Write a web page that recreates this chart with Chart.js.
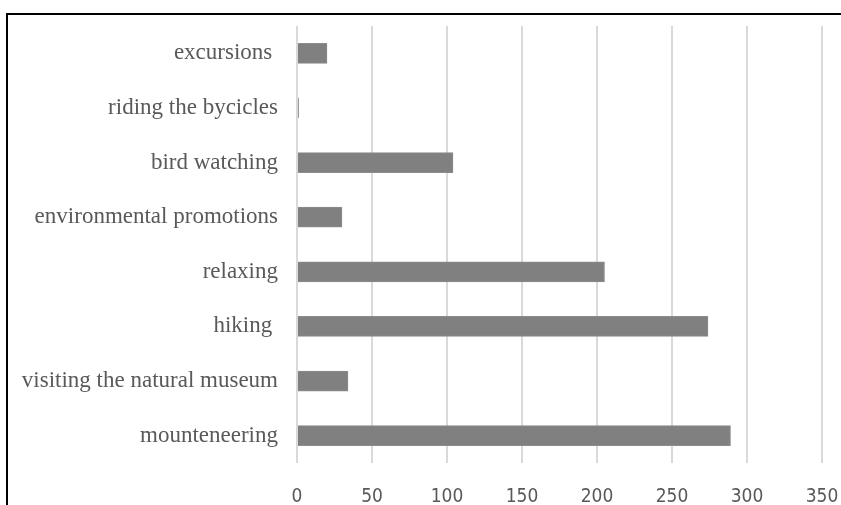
<!DOCTYPE html>
<html>
<head>
<meta charset="utf-8">
<script src="https://cdn.jsdelivr.net/npm/chart.js@4.4.1/dist/chart.umd.min.js"></script>
<style>
    html, body { margin: 0; padding: 0; background: #fff; }
    #wrap { position: relative; width: 841px; height: 505px; overflow: hidden; }
    #frame {
        position: absolute; left: 6px; top: 13px; width: 900px; height: 600px;
        border-top: 2px solid #000; border-left: 2px solid #000;
    }
    canvas { position: absolute; left: 0; top: 0; }
</style>
</head>
<body>
<div id="wrap">
    <div id="frame"></div>
    <canvas id="activityChart" width="841" height="505"></canvas>
</div>
<script>
// Activities, top to bottom as in the picture
const activities = [
    "excursions ",
    "riding the bycicles",
    "bird watching",
    "environmental promotions",
    "relaxing",
    "hiking ",
    "visiting the natural museum",
    "mounteneering"
];
const counts = [20, 1, 104, 30, 205, 274, 34, 289];
const xTicks = [0, 50, 100, 150, 200, 250, 300, 350];

document.addEventListener("DOMContentLoaded", function () {
    const ctx = document.getElementById("activityChart").getContext("2d");

    new Chart(ctx, {
        type: "bar",
        data: {
            labels: activities,
            datasets: [
                {
                    data: counts,
                    backgroundColor: "#808080",
                    borderColor: "#8c8c8c",
                    borderWidth: 1,
                    barThickness: 20,
                },
            ],
        },
        options: {
            indexAxis: "y",
            responsive: false,
            animation: false,
            layout: { padding: { left: 0, top: 26, right: 19, bottom: 0 } },
            plugins: {
                legend: { display: false },
                tooltip: { enabled: false },
            },
            scales: {
                x: {
                    min: 0,
                    max: 350,
                    afterBuildTicks: function (axis) {
                        axis.ticks = xTicks.map((v) => ({ value: v }));
                    },
                    afterFit: function (axis) {
                        axis.height = 42;
                        axis.paddingLeft = 0;
                        axis.paddingRight = 0;
                    },
                    grid: { color: "#d9d9d9", lineWidth: 2, drawTicks: false },
                    border: { display: false },
                    ticks: {
                        padding: 23,
                        color: "#595959",
                        font: { family: "'Liberation Sans Narrow', 'DejaVu Sans Condensed', sans-serif", size: 19 },
                    },
                },
                y: {
                    afterFit: function (axis) {
                        axis.width = 297;
                        axis.paddingTop = 0;
                        axis.paddingBottom = 0;
                    },
                    grid: { display: false, drawTicks: false },
                    border: { display: false },
                    ticks: {
                        padding: 19,
                        color: "#595959",
                        font: { family: "'Liberation Serif', serif", size: 23 },
                    },
                },
            },
        },
    });
});
</script>
</body>
</html>
